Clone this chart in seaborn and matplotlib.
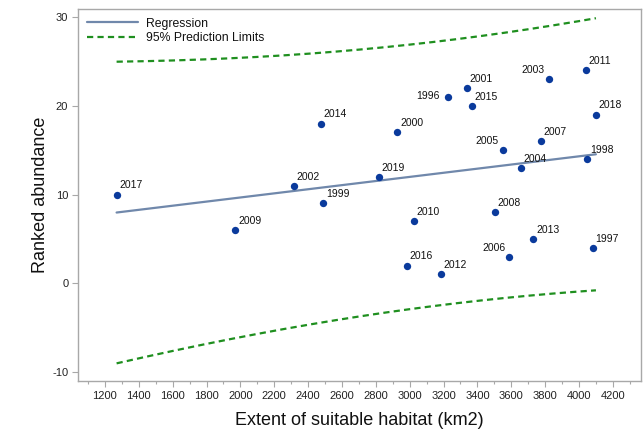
import numpy as np
import pandas as pd
import matplotlib
matplotlib.use("Agg")
import matplotlib.pyplot as plt
import seaborn as sns
from matplotlib.ticker import MultipleLocator

# Survey years, habitat extent (km2) and ranked abundance
years = [2017, 2009, 2002, 2014, 1999, 2019, 2000, 2016, 2010, 2012, 1996, 2001,
         2015, 2008, 2005, 2006, 2004, 2013, 2007, 2003, 2011, 1998, 1997, 2018]
habitat = [1269, 1970, 2316, 2476, 2489, 2817, 2927, 2984, 3024, 3185, 3226, 3336,
           3368, 3502, 3549, 3588, 3657, 3730, 3775, 3824, 4041, 4049, 4080, 4100]
rank = [10, 6, 11, 18, 9, 12, 17, 2, 7, 1, 21, 22,
        20, 8, 15, 3, 13, 5, 16, 23, 24, 14, 4, 19]

# Years whose labels sit to the left of the point
left_above = [2003, 2005, 2006]
left_mid = [1996]

x_ticks = list(range(1200, 4201, 200))
y_ticks = [-10, 0, 10, 20, 30]

df = pd.DataFrame({"year": years, "habitat": habitat, "rank": rank})

# Ordinary least squares fit with 95% prediction limits
x = df["habitat"].to_numpy(float)
y = df["rank"].to_numpy(float)
n = len(x)
slope, intercept = np.polyfit(x, y, 1)
resid = y - (intercept + slope * x)
s = np.sqrt(np.sum(resid ** 2) / (n - 2))
sxx = np.sum((x - x.mean()) ** 2)
t_crit = 2.0739  # t(0.975, df=22)
grid = np.linspace(x.min(), x.max(), 200)
fit = intercept + slope * grid
half = t_crit * s * np.sqrt(1 + 1 / n + (grid - x.mean()) ** 2 / sxx)
fit_df = pd.DataFrame({"habitat": grid, "fit": fit,
                       "lower": fit - half, "upper": fit + half})

sns.set_theme(style="white")
plt.rcParams["font.family"] = ["Liberation Sans", "DejaVu Sans"]
plt.rcParams["axes.unicode_minus"] = False

fig = plt.figure(figsize=(6.44, 4.37), dpi=100)
ax = fig.add_axes([0.1211, 0.1281, 0.8742, 0.8513])

reg_color = "#7088ab"
lim_color = "#1f8f1f"
pt_color = "#0a3a9c"

sns.lineplot(data=fit_df, x="habitat", y="fit", ax=ax, color=reg_color,
             linewidth=1.6, label="Regression")
sns.lineplot(data=fit_df, x="habitat", y="upper", ax=ax, color=lim_color,
             linewidth=1.6, label="95% Prediction Limits")
sns.lineplot(data=fit_df, x="habitat", y="lower", ax=ax, color=lim_color,
             linewidth=1.6, label="_nolegend_")
for ln in ax.lines[1:3]:
    ln.set_dashes((2.8, 1.9))

sns.scatterplot(data=df, x="habitat", y="rank", ax=ax, color=pt_color,
                s=28, edgecolor=pt_color, linewidth=0, zorder=5)

for yr, hx, ry in zip(years, habitat, rank):
    if yr in left_above:
        ax.annotate(str(yr), (hx, ry), xytext=(-3, 3), textcoords="offset points",
                    ha="right", va="bottom", fontsize=7.5, color="#111111")
    elif yr in left_mid:
        ax.annotate(str(yr), (hx, ry), xytext=(-6, 0.5), textcoords="offset points",
                    ha="right", va="center", fontsize=7.5, color="#111111")
    else:
        ax.annotate(str(yr), (hx, ry), xytext=(2, 3), textcoords="offset points",
                    ha="left", va="bottom", fontsize=7.5, color="#111111")

ax.set_xlim(1041, 4366)
ax.set_ylim(-11.0, 30.9)
ax.set_xticks(x_ticks)
ax.set_yticks(y_ticks)
ax.xaxis.set_minor_locator(MultipleLocator(100))

frame_gray = "#a8a8a8"
for sp in ax.spines.values():
    sp.set_color(frame_gray)
    sp.set_linewidth(1.0)
ax.tick_params(axis="both", which="major", direction="out", length=4,
               width=0.8, color=frame_gray, labelsize=8, labelcolor="#222222", pad=3)
ax.tick_params(axis="x", which="minor", direction="out", length=2.5,
               width=0.8, color=frame_gray, bottom=True)
ax.tick_params(axis="x", which="major", bottom=True, pad=3)
ax.tick_params(axis="y", which="major", left=True)

ax.set_xlabel("Extent of suitable habitat (km2)", fontsize=13, color="#111111", labelpad=8)
ax.set_ylabel("Ranked abundance", fontsize=13, color="#111111", labelpad=2)

leg = ax.legend(loc="upper left", frameon=False, fontsize=8.8, handlelength=4.2,
                handletextpad=0.7, borderaxespad=0.3, labelspacing=0.2)
for txt in leg.get_texts():
    txt.set_color("#111111")

fig.savefig("out.png", dpi=100)
